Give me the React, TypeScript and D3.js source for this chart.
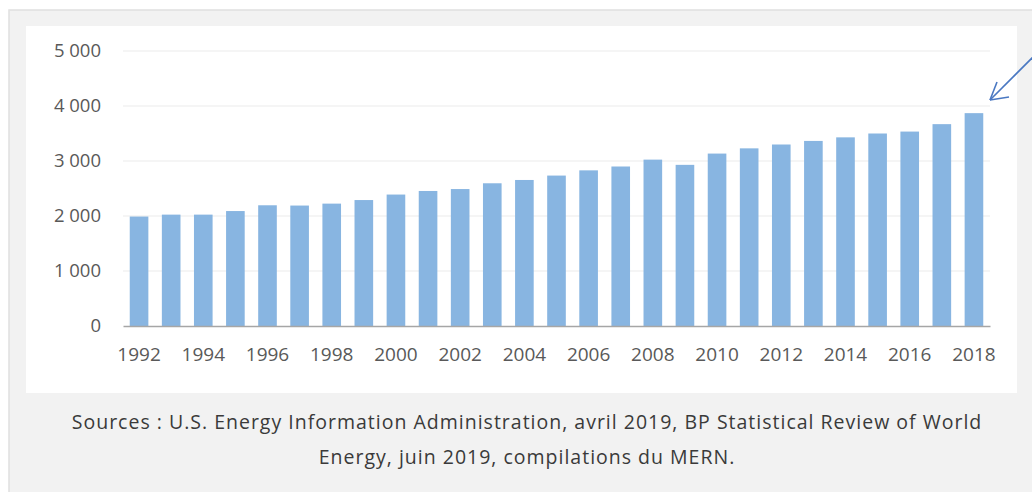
import * as React from 'react';
import { axisBottom, axisLeft, formatLocale, scaleBand, scaleLinear, select } from 'd3';

const years = [
    "1992", "1993", "1994", "1995", "1996", "1997", "1998", "1999", "2000",
    "2001", "2002", "2003", "2004", "2005", "2006", "2007", "2008", "2009",
    "2010", "2011", "2012", "2013", "2014", "2015", "2016", "2017", "2018"
];
const values = [
    1990, 2025, 2025, 2090, 2195, 2190, 2225, 2290, 2390,
    2455, 2490, 2595, 2655, 2735, 2830, 2900, 3025, 2930,
    3135, 3230, 3300, 3365, 3430, 3500, 3535, 3670, 3870
];
const yTicks = [0, 1000, 2000, 3000, 4000, 5000];
const yearLabels = ["1992", "1994", "1996", "1998", "2000", "2002", "2004", "2006", "2008", "2010", "2012", "2014", "2016", "2018"];
const sourceLines = [
    "Sources : U.S. Energy Information Administration, avril 2019, BP Statistical Review of World",
    "Energy, juin 2019, compilations du MERN."
];

const W = 1032;
const H = 492;
const frFormat = formatLocale({ decimal: ",", thousands: " ", grouping: [3], currency: ["", " $"] }).format(",d");

const App = () => {
    const svgRef = React.useRef<SVGSVGElement>(null);

    React.useEffect(() => {
        const svg = select(svgRef.current);
        const plot = { left: 123, right: 990, top: 51, bottom: 326 };

        const xScale = scaleBand()
            .domain(years)
            .range([plot.left, plot.right])
            .paddingInner(0.42)
            .paddingOuter(0.21);
        const yScale = scaleLinear().domain([0, 5000]).range([plot.bottom, plot.top]);

        const g = svg.select(".filler");
        g.selectAll("*").remove();

        // gridlines
        g.append("g")
            .selectAll("line")
            .data(yTicks.slice(1))
            .join("line")
            .attr("x1", plot.left)
            .attr("x2", plot.right)
            .attr("y1", (d) => yScale(d))
            .attr("y2", (d) => yScale(d))
            .attr("stroke", "#ebebeb")
            .attr("stroke-width", 1);

        g.append("g")
            .selectAll("rect")
            .data(values)
            .join("rect")
            .attr("x", (d, i) => xScale(years[i]) || 0)
            .attr("width", xScale.bandwidth())
            .attr("y", (d) => yScale(d))
            .attr("height", (d) => yScale(0) - yScale(d))
            .attr("fill", "#88b5e1");

        const yAxis = axisLeft(yScale).tickValues(yTicks).tickFormat((d) => frFormat(d as number)).tickSize(0).tickPadding(0);
        const ya = g.append("g").attr("transform", "translate(101,0)").call(yAxis as any);
        ya.select(".domain").remove();
        ya.selectAll("text")
            .attr("font-family", "'Open Sans', sans-serif")
            .attr("font-size", 18.5)
            .attr("fill", "#595959");

        const xAxis = axisBottom(xScale).tickValues(yearLabels).tickSize(0).tickPadding(22);
        const xa = g.append("g").attr("transform", `translate(0,${plot.bottom})`).call(xAxis as any);
        xa.select(".domain").attr("stroke", "#a6a6a6").attr("stroke-width", 1.5);
        xa.selectAll("text")
            .attr("font-family", "'Open Sans', sans-serif")
            .attr("font-size", 19)
            .attr("fill", "#595959");
    }, []);

    return (
        <svg ref={svgRef} width={W} height={H} style={{ position: 'absolute', left: 0, top: 0, background: '#ffffff' }}>
            <rect x={9} y={10} width={W} height={H} fill="#f2f2f2" stroke="#e0e0e0" strokeWidth={1.5} />
            <rect x={26} y={26} width={991} height={367} fill="#ffffff" />
            <g className="filler" />
            <g stroke="#4a78c2" strokeWidth={1.6} fill="none">
                <line x1={1034} y1={56} x2={990} y2={100} />
                <line x1={990} y1={100} x2={997} y2={82} />
                <line x1={990} y1={100} x2={1009} y2={97} />
            </g>
            {sourceLines.map((line, i) => (
                <text key={i} x={527} y={429 + i * 35} textAnchor="middle" letterSpacing={1}
                    fontFamily="'Open Sans', sans-serif" fontSize={19.5} fill="#3a3a3a">{line}</text>
            ))}
        </svg>
    );
};

export default App;
